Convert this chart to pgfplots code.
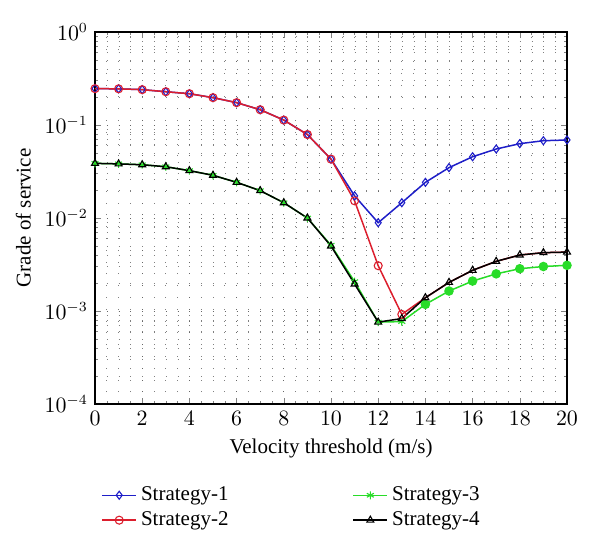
\documentclass[border=0pt]{standalone}
\usepackage{fontspec}
\setmainfont{Liberation Serif}
\usepackage{pgfplots}
\pgfplotsset{compat=1.18}

\definecolor{sblue}{RGB}{30,30,200}
\definecolor{sred}{RGB}{220,30,45}
\definecolor{sgreen}{RGB}{40,220,40}

\begin{document}
\begin{tikzpicture}
\begin{axis}[
    name=ax,
    scale only axis,
    width=236pt, height=186pt,
    ymode=log,
    xmin=0, xmax=20, ymin=1e-4, ymax=1,
    xtick={0,2,...,20},
    minor x tick num=3,
    grid=both,
    major grid style={black!60, line width=0.3pt, dash pattern=on 0.4pt off 5.5pt},
    minor grid style={black!50, line width=0.3pt, dash pattern=on 0.4pt off 5.5pt},
    tick align=inside,
    major tick length=3pt, minor tick length=1.5pt,
    axis line style={line width=0.6pt},
    font=\fontsize{10.5}{12}\selectfont,
    xlabel={Velocity threshold (m/s)},
    ylabel={Grade of service},
    every axis plot/.append style={line width=0.75pt, mark size=2pt},
    legend columns=2,
    legend cell align=left,
    legend style={at={(0,-0.20)}, anchor=north west, draw=none, fill=none,
        /tikz/every even column/.append style={column sep=60pt},
        row sep=0pt},
]
% Strategy-1
\addplot[color=sblue, mark=diamond, mark options={fill=white, line width=0.55pt}] coordinates {
    (0,0.246) (1,0.245) (2,0.240) (3,0.228) (4,0.217) (5,0.197) (6,0.174)
    (7,0.146) (8,0.113) (9,0.079) (10,0.043) (11,0.0173) (12,0.0089)
    (13,0.0146) (14,0.0242) (15,0.0348) (16,0.0456) (17,0.0552) (18,0.0630)
    (19,0.0678) (20,0.069)
};
\addlegendentry{Strategy-1}
% Strategy-3
\addplot[color=sgreen, mark=asterisk, mark options={line width=0.55pt}] coordinates {
    (0,0.0387) (1,0.0382) (2,0.0374) (3,0.0356) (4,0.0323) (5,0.0288)
    (6,0.0242) (7,0.0197) (8,0.0146) (9,0.0100) (10,0.0051) (11,0.00207)
    (12,0.00076) (13,0.00077) (14,0.00118) (15,0.00164) (16,0.0021)
    (17,0.00251) (18,0.00285) (19,0.00301) (20,0.0031)
};
\addlegendentry{Strategy-3}
\addplot[color=sgreen, only marks, mark=*, mark options={fill=sgreen}, forget plot] coordinates {
    (14,0.00118) (15,0.00164) (16,0.0021) (17,0.00251) (18,0.00285)
    (19,0.00301) (20,0.0031)
};
% Strategy-2: tail that runs under Strategy-4
\addplot[color=sred, no marks, forget plot] coordinates {
    (13,0.00092) (14,0.00139) (15,0.00203) (16,0.00274) (17,0.00342)
    (18,0.0040) (19,0.00424) (20,0.0043)
};
\addplot[color=sred, mark=o, mark options={line width=0.55pt}] coordinates {
    (0,0.246) (1,0.245) (2,0.240) (3,0.228) (4,0.217) (5,0.197) (6,0.174)
    (7,0.146) (8,0.113) (9,0.079) (10,0.043) (11,0.0153) (12,0.00307)
    (13,0.00092)
};
\addlegendentry{Strategy-2}
% Strategy-4
\addplot[color=black, mark=triangle, mark options={fill=white, line width=0.55pt}] coordinates {
    (0,0.0387) (1,0.0382) (2,0.0374) (3,0.0356) (4,0.0323) (5,0.0288)
    (6,0.0242) (7,0.0197) (8,0.0146) (9,0.0100) (10,0.0050) (11,0.00195)
    (12,0.00076) (13,0.00083) (14,0.00139) (15,0.00203) (16,0.00274)
    (17,0.00342) (18,0.0040) (19,0.00424) (20,0.0043)
};
\addlegendentry{Strategy-4}
\end{axis}
\path (ax.south west) ++(-47.5pt,-72.5pt) (ax.north east) ++(16.5pt,16pt);
\end{tikzpicture}
\end{document}
